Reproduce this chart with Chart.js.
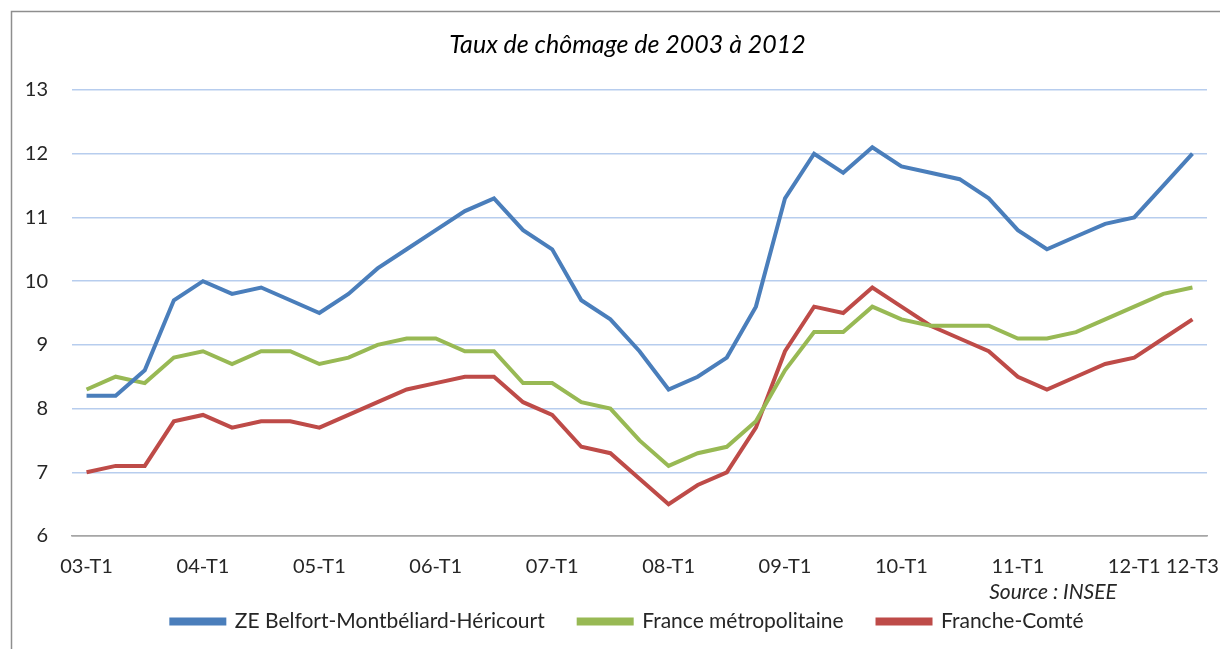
<!DOCTYPE html>
<html lang="fr">
<head>
<meta charset="UTF-8">
<title>Taux de chômage de 2003 à 2012</title>
<script src="https://cdn.jsdelivr.net/npm/chart.js@4/dist/chart.umd.min.js"></script>
<style>
    html, body { margin: 0; padding: 0; background: #fff; }
    #cadre { width: 1220px; height: 649px; position: relative; }
</style>
</head>
<body>
<div id="cadre">
    <canvas id="grafico"></canvas>
</div>
<script>
// trimestres 03-T1 .. 12-T3
const annees = ['03', '04', '05', '06', '07', '08', '09', '10', '11', '12'];
const trimestres = [];
annees.forEach(function (a) {
    for (let t = 1; t <= 4; t++) {
        if (a === '12' && t > 3) break;
        trimestres.push(a + '-T' + t);
    }
});

const belfort = [8.2, 8.2, 8.6, 9.7, 10.0, 9.8, 9.9, 9.7, 9.5, 9.8, 10.2, 10.5, 10.8, 11.1, 11.3, 10.8, 10.5, 9.7, 9.4, 8.9,
    8.3, 8.5, 8.8, 9.6, 11.3, 12.0, 11.7, 12.1, 11.8, 11.7, 11.6, 11.3, 10.8, 10.5, 10.7, 10.9, 11.0, 11.5, 12.0];
const franceMetro = [8.3, 8.5, 8.4, 8.8, 8.9, 8.7, 8.9, 8.9, 8.7, 8.8, 9.0, 9.1, 9.1, 8.9, 8.9, 8.4, 8.4, 8.1, 8.0, 7.5,
    7.1, 7.3, 7.4, 7.8, 8.6, 9.2, 9.2, 9.6, 9.4, 9.3, 9.3, 9.3, 9.1, 9.1, 9.2, 9.4, 9.6, 9.8, 9.9];
const francheComte = [7.0, 7.1, 7.1, 7.8, 7.9, 7.7, 7.8, 7.8, 7.7, 7.9, 8.1, 8.3, 8.4, 8.5, 8.5, 8.1, 7.9, 7.4, 7.3, 6.9,
    6.5, 6.8, 7.0, 7.7, 8.9, 9.6, 9.5, 9.9, 9.6, 9.3, 9.1, 8.9, 8.5, 8.3, 8.5, 8.7, 8.8, 9.1, 9.4];

const yMin = 6;
const yMax = 13;
const police = "Lato, 'Open Sans', sans-serif";

// cadre gris (haut et gauche) + source
const decor = {
    id: 'decor',
    afterLayout(chart) {
        // titre et légende un peu décalés, comme dans l'original
        [chart.titleBlock, chart.legend].forEach(function (b) {
            if (b) { b.left += 24; b.right += 24; }
        });
        if (chart.legend) { chart.legend.top -= 7; chart.legend.bottom -= 7; }
    },
    beforeDraw(chart) {
        const ctx = chart.ctx;
        ctx.save();
        ctx.strokeStyle = '#8e8e8e';
        ctx.lineWidth = 1.5;
        ctx.beginPath();
        ctx.moveTo(11.5, chart.height);
        ctx.lineTo(11.5, 11.5);
        ctx.lineTo(chart.width, 11.5);
        ctx.stroke();
        ctx.restore();
    },
    afterDraw(chart) {
        const ctx = chart.ctx;
        const area = chart.chartArea;
        ctx.save();
        ctx.fillStyle = '#262626';
        ctx.font = 'italic 21px ' + police;
        ctx.textAlign = 'center';
        ctx.textBaseline = 'middle';
        ctx.fillText('Source : INSEE', area.right - 154, area.bottom + 56);
        ctx.restore();
    }
};

function serie(label, data, couleur) {
    return {
        label: label,
        data: data,
        borderColor: couleur,
        backgroundColor: couleur,
        borderWidth: 4,
        pointRadius: 0,
        tension: 0,
        fill: false
    };
}

new Chart(document.getElementById('grafico'), {
    type: 'line',
    data: {
        labels: trimestres,
        datasets: [
            serie('ZE Belfort-Montbéliard-Héricourt', belfort, '#4a7ebb'),
            serie('France métropolitaine', franceMetro, '#98b954'),
            serie('Franche-Comté', francheComte, '#be4b48')
        ]
    },
    options: {
        responsive: true,
        maintainAspectRatio: false,
        animation: false,
        layout: { padding: { left: 0, right: 13, top: 0, bottom: 0 } },
        plugins: {
            title: {
                display: true,
                text: 'Taux de chômage de 2003 à 2012',
                color: '#000',
                font: { family: police, size: 25, style: 'italic', weight: 'normal' },
                padding: { top: 30, bottom: 30 }
            },
            legend: {
                position: 'bottom',
                labels: {
                    color: '#262626',
                    font: { family: police, size: 21 },
                    boxWidth: 53,
                    boxHeight: 4,
                    padding: 34
                }
            },
            tooltip: { enabled: false }
        },
        scales: {
            x: {
                offset: true,
                grid: { display: false, drawTicks: false },
                border: { display: true, color: '#a6a6a6', width: 1.5 },
                ticks: {
                    autoSkip: false,
                    maxRotation: 0,
                    padding: 19,
                    color: '#262626',
                    font: { family: police, size: 20 },
                    callback: function (v, i) {
                        return (i % 4 === 0 || i === trimestres.length - 1) ? trimestres[i] : '';
                    }
                },
                afterFit: function (s) {
                    s.height = 48;
                    s.paddingLeft = 0;
                    s.paddingRight = 0;
                }
            },
            y: {
                min: yMin,
                max: yMax,
                grid: {
                    drawTicks: false,
                    lineWidth: 1.5,
                    color: function (c) { return c.tick.value === yMin ? '#a6a6a6' : '#b7cdee'; }
                },
                border: { display: false },
                ticks: {
                    stepSize: 1,
                    padding: 24,
                    color: '#262626',
                    font: { family: police, size: 20 }
                },
                afterFit: function (s) { s.width = 72; }
            }
        }
    },
    plugins: [decor]
});
</script>
</body>
</html>
